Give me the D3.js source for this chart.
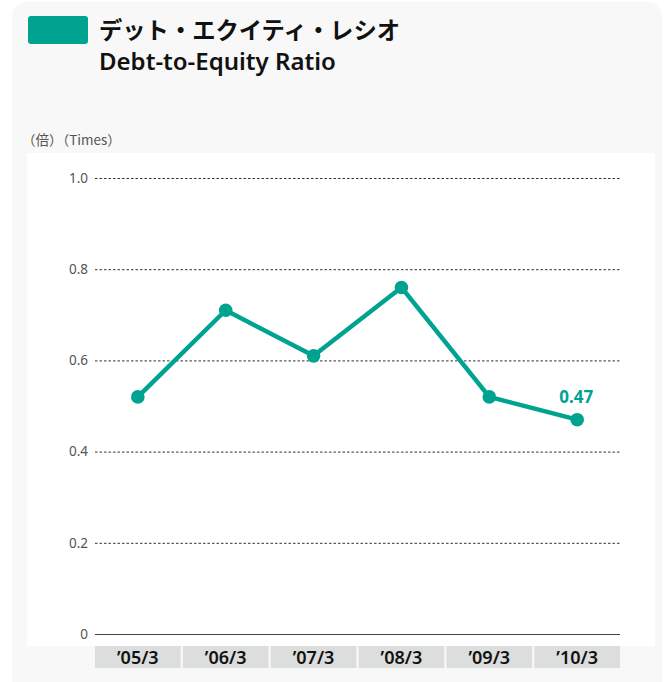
<!DOCTYPE html>
<html><head><meta charset="utf-8">
<script src="https://cdn.jsdelivr.net/npm/d3@7"></script>
<style>
html,body{margin:0;padding:0;background:#fff;}
svg{display:block;}
</style></head>
<body>
<svg id="c" width="668" height="682"></svg>
<script>
const categories = ["’05/3","’06/3","’07/3","’08/3","’09/3","’10/3"];
const ratioValues = [0.52, 0.71, 0.61, 0.76, 0.52, 0.47];
const yTicks = [0, 0.2, 0.4, 0.6, 0.8, 1.0];
const yTickLabels = ["0","0.2","0.4","0.6","0.8","1.0"];
const titleJa = "デット・エクイティ・レシオ";
const titleEn = "Debt-to-Equity Ratio";
const unitLabel = "（倍）（Times）";
const lastLabel = "0.47";

const teal = "#00a290";
const svg = d3.select("#c");
const font = "'Noto Sans CJK JP','Noto Sans',sans-serif";
const latin = "'Noto Sans','Open Sans',sans-serif";

// panel
svg.append("path")
  .attr("d", "M12,682 L12,18 Q12,2 28,2 L646,2 Q662,2 662,18 L662,682 Z")
  .attr("fill", "#f8f8f8");
svg.append("rect").attr("x",27).attr("y",153).attr("width",628).attr("height",493).attr("fill","#fff");

// title
svg.append("rect").attr("x",28).attr("y",16).attr("width",60).attr("height",28).attr("rx",3).attr("fill",teal);
svg.append("text").attr("x",99).attr("y",39).attr("font-family",font).attr("font-weight",700)
  .attr("font-size",23.3).attr("fill","#111").text(titleJa);
svg.append("text").attr("x",99).attr("y",70).attr("font-family",latin).attr("font-weight",600)
  .attr("font-size",24).attr("fill","#111").attr("letter-spacing","0").text(titleEn);

svg.append("text").attr("x",22).attr("y",145).attr("font-family",font)
  .attr("font-size",13.5).attr("fill","#555").text(unitLabel);

const x = d3.scaleBand().domain(categories).range([95,620]).paddingInner(0.025).paddingOuter(0);
const y = d3.scaleLinear().domain([0,1]).range([634,178]);

// grid lines
const g = svg.append("g");
g.selectAll("line.grid").data(yTicks.filter(d=>d>0)).enter().append("line")
  .attr("x1",95).attr("x2",620).attr("y1",d=>y(d)+0.5).attr("y2",d=>y(d)+0.5)
  .attr("stroke","#333").attr("stroke-width",1).attr("stroke-dasharray","2.5,2");
g.append("line").attr("x1",95).attr("x2",620).attr("y1",y(0)+0.5).attr("y2",y(0)+0.5)
  .attr("stroke","#444").attr("stroke-width",1.2);

// y axis labels
const yAxis = d3.axisLeft(y).tickValues(yTicks).tickSize(0).tickPadding(0)
  .tickFormat((d,i)=>yTickLabels[i]);
const ya = svg.append("g").attr("transform","translate(88,0)").call(yAxis);
ya.select(".domain").remove();
ya.selectAll("text").attr("font-family",latin).attr("font-size",13.5).attr("fill","#555");

// category boxes
const cb = svg.append("g");
cb.selectAll("rect").data(categories).enter().append("rect")
  .attr("x",d=>x(d)).attr("y",646).attr("width",x.bandwidth()).attr("height",22).attr("fill","#dcdddd");
cb.selectAll("text").data(categories).enter().append("text")
  .attr("x",d=>x(d)+x.bandwidth()/2).attr("y",664).attr("text-anchor","middle")
  .attr("font-family",latin).attr("font-weight",600).attr("font-size",18).attr("fill","#111").text(d=>d);

// line
const cx = d => x(d)+x.bandwidth()/2;
const pts = categories.map((c,i)=>[cx(c), y(ratioValues[i])]);
svg.append("path").attr("d", d3.line()(pts)).attr("fill","none").attr("stroke",teal)
  .attr("stroke-width",4.5).attr("stroke-linejoin","round");
svg.selectAll("circle.pt").data(pts).enter().append("circle")
  .attr("cx",d=>d[0]).attr("cy",d=>d[1]).attr("r",6.8).attr("fill",teal);

svg.append("text").attr("x",pts[5][0]-1).attr("y",pts[5][1]-17).attr("text-anchor","middle")
  .attr("font-family",latin).attr("font-weight",700).attr("font-size",17).attr("fill",teal).text(lastLabel);
</script>
</body></html>
